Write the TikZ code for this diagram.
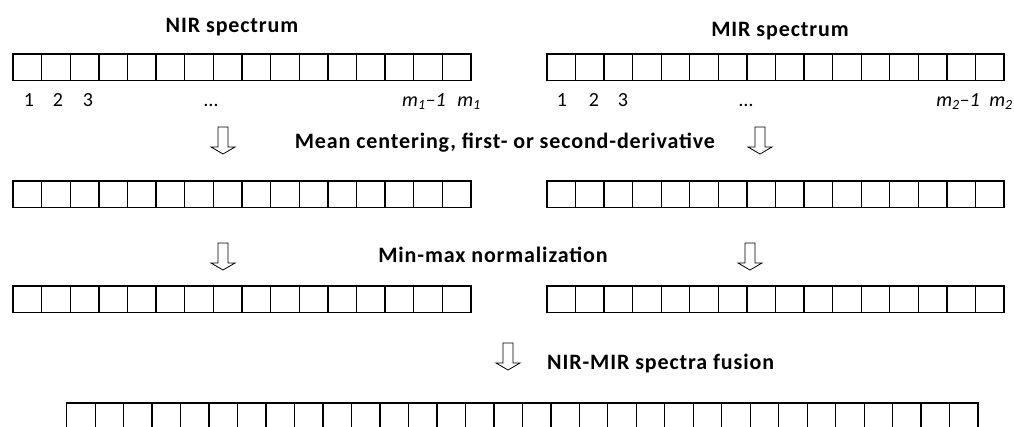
\documentclass[tikz,border=0pt]{standalone}
\usepackage{fontspec}
\setmainfont{Carlito}
\newfontfamily\headfont[LetterSpace=4]{Carlito}

% one row of n equal cells: left x, top y, count, cell width
\newcommand\cellrow[4]{%
  \foreach \k in {1,...,#3}
    \draw[cell] ({#1+(\k-1)*#4},#2) rectangle ++(#4,26.5);%
}

\begin{document}
\begin{tikzpicture}[x=1pt,y=-1pt,
  cell/.style={draw=black, line width=1.3pt},
  arrowshape/.style={draw=black, line width=0.8pt, fill=white, line join=miter},
  blockarrow/.pic={\draw[arrowshape] (-5,0) -- (5,0) -- (5,20) -- (12,20)
                   -- (0,27) -- (-12,20) -- (-5,20) -- cycle;},
  title/.style={font=\headfont\fontsize{22}{26}\selectfont\bfseries, anchor=base, inner sep=0pt},
  index/.style={font=\fontsize{20}{24}\selectfont, anchor=base, inner sep=0pt}]
\useasboundingbox (0,0) rectangle (1014,426);
\clip (0,0) rectangle (1014,426);

% raw spectra
\node[title] (nirtitle) at (232,32) {NIR spectrum};
\node[title] (mirtitle) at (780,36) {MIR spectrum};
\cellrow{13}{54}{16}{28.625}
\cellrow{547}{54}{16}{28.5625}

% variable indices
\node[index] (n1) at (29,106) {1};
\node[index] (n2) at (58,106) {2};
\node[index] (n3) at (88,106) {3};
\node[index] (ndots) at (211,106) {…};
\node[index] (nlast1) at (424,106) {\itshape m\textsubscript{1}–1};
\node[index] (nlast) at (469,106) {\itshape m\textsubscript{1}};
\node[index] (m1) at (562,106) {1};
\node[index] (m2) at (594,106) {2};
\node[index] (m3) at (623,106) {3};
\node[index] (mdots) at (746,106) {…};
\node[index] (mlast1) at (958,106) {\itshape m\textsubscript{2}–1};
\node[index] (mlast) at (1001,106) {\itshape m\textsubscript{2}};

% pretreatment
\pic at (223,127) {blockarrow};
\pic at (760,127) {blockarrow};
\node[title] (pretreat) at (505,148) {Mean centering, first- or second-derivative};
\cellrow{13}{181}{16}{28.625}
\cellrow{547}{181}{16}{28.5625}

% normalization
\pic at (223,243) {blockarrow};
\pic at (750,243) {blockarrow};
\node[title] (normal) at (493,262) {Min-max normalization};
\cellrow{13}{286}{16}{28.625}
\cellrow{547}{286}{16}{28.5625}

% fusion
\pic at (508,343) {blockarrow};
\node[title, anchor=base west] (fusion) at (547,369) {NIR-MIR spectra fusion};
\cellrow{66.7}{403}{32}{28.48}
\end{tikzpicture}
\end{document}
